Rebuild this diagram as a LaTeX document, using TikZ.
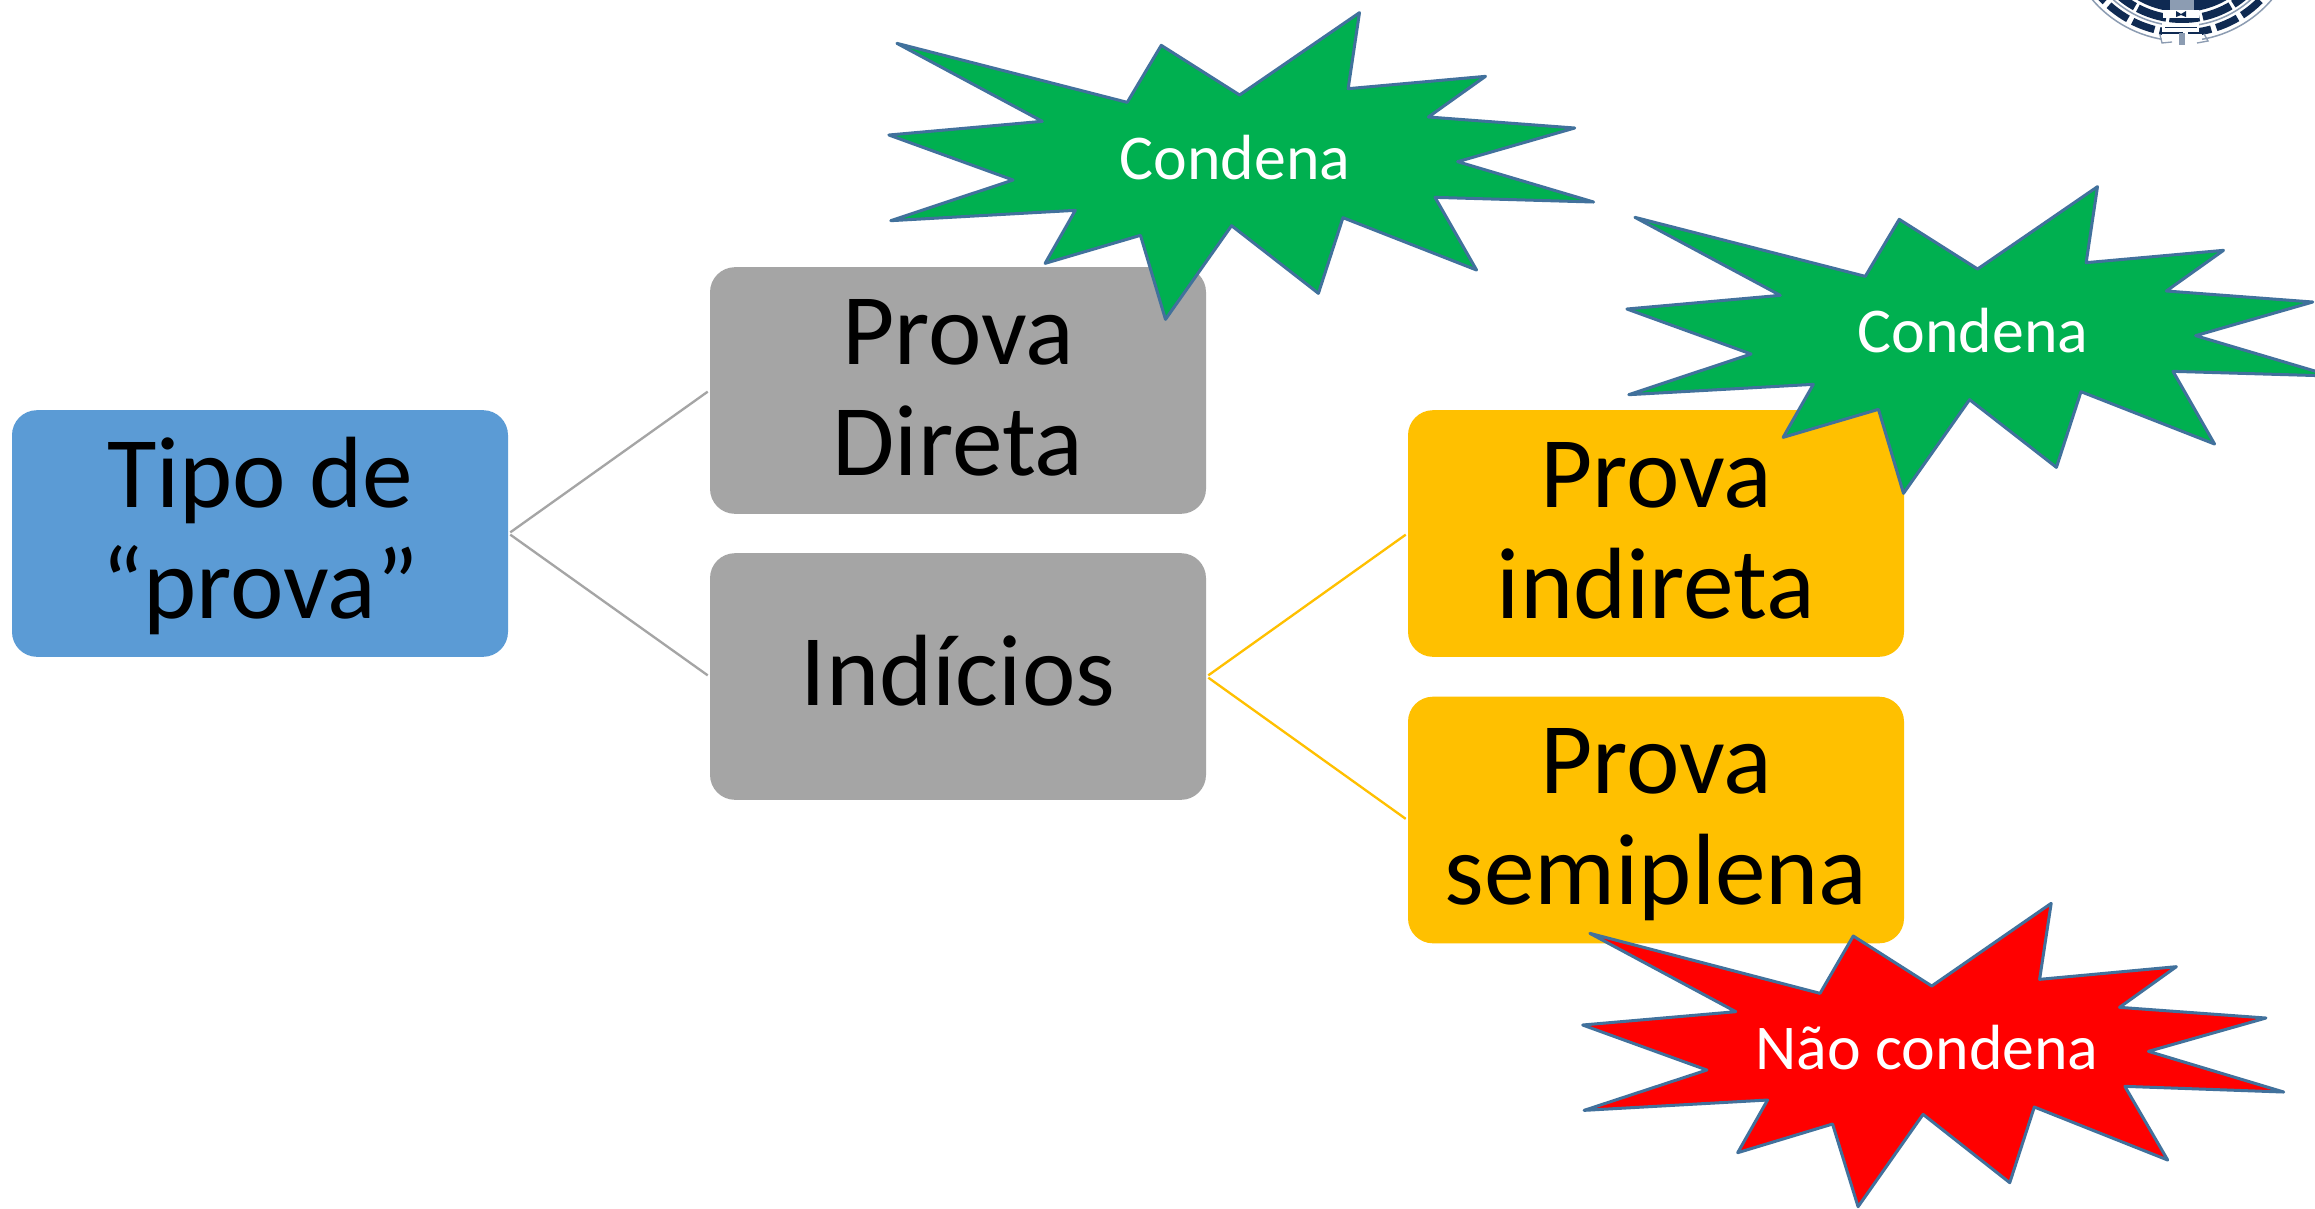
\documentclass[tikz,border=0pt]{standalone}
\usepackage{fontspec}
\setmainfont{Carlito}
\definecolor{cblue}{HTML}{5B9BD5}
\definecolor{cgray}{HTML}{A5A5A5}
\definecolor{cyellow}{HTML}{FFC000}
\definecolor{cgreen}{HTML}{00B050}
\definecolor{cred}{HTML}{FF0000}
\definecolor{cedge}{HTML}{41719C}
\definecolor{cnavy}{HTML}{0F2A52}
\definecolor{cring}{HTML}{8C9CB2}
\newcommand{\topstrut}{\rule{0pt}{26pt}}
\newcommand{\botstrut}{\rule[-8.6pt]{0pt}{8.6pt}}
\tikzset{
  pbox/.style={rounded corners=7.5pt,minimum width=148.8pt,minimum height=74pt,inner sep=0pt,align=center,font=\fontsize{30.4}{33.3}\selectfont,text=black},
  burst/.style={draw=cedge,line width=0.9pt,line join=round},
  blabel/.style={text=white,inner sep=0pt,font=\fontsize{19.15}{22}\selectfont},
  gline/.style={draw=cgray,line width=0.7pt},
  yline/.style={draw=cyellow,line width=0.7pt}
}
\newcommand{\greenburst}{(57,130)--(545,307)--(617,136)--(783,285)--(1037,38)--(1013,266)--(1304,229)--(1183,351)--(1493,384)--(1245,485)--(1533,606)--(1197,592)--(1285,810)--(1002,653)--(950,880)--(766,677)--(626,958)--(573,706)--(371,790)--(435,631)--(44,662)--(303,540)--(40,405)--(365,364)--cycle}
\begin{document}
\begin{tikzpicture}[x=0.3pt,y=-0.3pt]
\clip (0,0) rectangle (2315,1208);
\fill[white] (0,0) rectangle (2315,1208);

% emblem, top right
\begin{scope}
  \draw[cring,line width=0.45pt] (2182,-77) circle (118);
  \draw[cnavy,line width=2.2pt,dash pattern=on 7pt off 1.6pt] (2182,-77) circle (110);
  \draw[cring,line width=0.45pt] (2182,-77) circle (103);
  \draw[cnavy,line width=2.4pt,dash pattern=on 9pt off 1pt] (2182,-77) circle (96);
  \fill[cnavy] (2182,-77) circle (89);
  \fill[cring] (2170,0) rectangle (2194,10);
  \fill[white] (2163,10) rectangle (2199,18);
  \fill[cnavy] (2176,11) -- (2181,14) -- (2186,11) -- (2186,17) -- (2181,15) -- (2176,17) -- cycle;
  \fill[white] (2162,23) rectangle (2199,32);
  \draw[cnavy,line width=0.5pt] (2165,27.5) -- (2197,27.5);
  \fill[white] (2162,34) rectangle (2202,44);
  \draw[cring,line width=0.4pt] (2160,35) -- (2162,43) -- (2172,42);
  \draw[cring,line width=0.4pt] (2197,43) -- (2208,41) -- (2204,34);
  \fill[cring] (2179,33) rectangle (2185,45);
\end{scope}

% boxes
\node[pbox,fill=cblue]   (tipo) at (260,533.5) {\topstrut Tipo de\\“prova”\botstrut};
\node[pbox,fill=cgray]   (dir)  at (958,390.5) {\topstrut Prova\\Direta\botstrut};
\node[pbox,fill=cgray]   (ind)  at (958,676.5) {\topstrut Indícios\botstrut};
\node[pbox,fill=cyellow] (pin)  at (1656,533.5) {\topstrut Prova\\indireta\botstrut};
\node[pbox,fill=cyellow] (sem)  at (1656,820) {\topstrut Prova\\semiplena\botstrut};

% connectors
\draw[gline,shorten <=0.6pt,shorten >=0.6pt] (tipo.east) -- (dir.west);
\draw[gline,shorten <=0.6pt,shorten >=0.6pt] (tipo.east) -- (ind.west);
\draw[yline,shorten <=0.6pt,shorten >=0.6pt] (ind.east) -- (pin.west);
\draw[yline,shorten <=0.6pt,shorten >=0.6pt] (ind.east) -- (sem.west);

% bursts
\begin{scope}[shift={(870,0)},x=0.1416pt,y=-0.1pt]
  \draw[burst,fill=cgreen] \greenburst;
\end{scope}
\begin{scope}[shift={(1608,174)},x=0.1416pt,y=-0.1pt]
  \draw[burst,fill=cgreen] \greenburst;
\end{scope}
\begin{scope}[shift={(1560,890)},x=0.14445pt,y=-0.1pt]
  \draw[burst,fill=cred] (62,130)--(540,310)--(609,138)--(772,288)--(1020,40)--(996,268)--(1280,230)--(1162,352)--(1466,384)--(1222,484)--(1503,606)--(1173,589)--(1262,810)--(985,651)--(934,878)--(754,673)--(619,950)--(566,702)--(369,788)--(431,630)--(50,661)--(305,540)--(47,405)--(365,365)--cycle;
\end{scope}

\node[blabel] (c1) at (1235,158) {Condena};
\node[blabel] (c2) at (1973,331) {Condena};
\node[blabel] (nc) at (1927,1048) {Não condena};
\end{tikzpicture}
\end{document}
